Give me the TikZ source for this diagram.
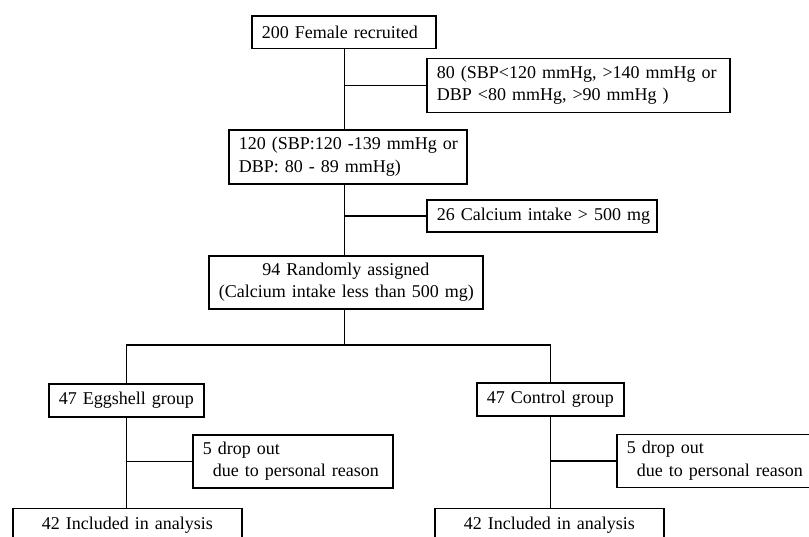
\documentclass[tikz,border=0pt]{standalone}
\usepackage{fontspec}
\setmainfont{Liberation Serif}
\begin{document}
\begin{tikzpicture}[x=1pt,y=-1pt,
  box/.style={draw, line width=1.8pt, inner xsep=10pt, inner ysep=0pt, anchor=north west, font=\fontsize{18}{22.5}\selectfont},
  lbox/.style={box, align=left},
  cbox/.style={box, align=center},
  conn/.style={line width=1.8pt}]
\useasboundingbox (0,0) rectangle (809,536);
\clip (0,0) rectangle (809,536);
\node[lbox, text width=164pt, minimum height=32.5pt] (A) at (251,15) {\mbox{200 Female recruited}};
\node[lbox, text width=283pt, minimum height=54pt] (B) at (426,57.5) {\mbox{80 (SBP<120 mmHg, >140 mmHg or}\\\mbox{DBP <80 mmHg, >90 mmHg )}};
\node[lbox, text width=218pt, minimum height=54pt] (C) at (228,129) {\mbox{120 (SBP:120 -139 mmHg or}\\\mbox{DBP: 80 - 89 mmHg)}};
\node[lbox, text width=210pt, minimum height=32pt] (D) at (426,199) {\mbox{26 Calcium intake > 500 mg}};
\node[cbox, text width=254pt, minimum height=53pt] (E) at (208,255) {\mbox{94 Randomly assigned}\\\mbox{(Calcium intake less than 500 mg)}};
\node[cbox, text width=135pt, minimum height=33pt] (F) at (48,383) {\mbox{47 Eggshell group}};
\node[cbox, text width=127pt, minimum height=33pt] (G) at (476,382) {\mbox{47 Control group}};
\node[lbox, text width=180pt, minimum height=53pt] (H) at (192,434) {\mbox{5 drop out}\\\mbox{\hspace*{10pt}due to personal reason}};
\node[lbox, text width=180pt, minimum height=53pt] (I) at (616,433.5) {\mbox{5 drop out}\\\mbox{\hspace*{10pt}due to personal reason}};
\node[cbox, text width=209pt, minimum height=33pt] (J) at (12,507.5) {\mbox{42 Included in analysis}};
\node[cbox, text width=209pt, minimum height=33pt] (K) at (434,507.5) {\mbox{42 Included in analysis}};
\coordinate (t) at (344.5,0);
\coordinate (s) at (344.5,345);
\draw[conn] (t |- A.south) -- (t |- C.north);
\draw[conn] (t |- B.west) -- (B.west);
\draw[conn] (t |- C.south) -- (t |- E.north);
\draw[conn] (t |- D.west) -- (D.west);
\draw[conn] (t |- E.south) -- (s);
\draw[conn] (F.north) |- (s) -| (G.north);
\draw[conn] (F.south) -- (F.south |- J.north);
\draw[conn] (F.south |- H.west) -- (H.west);
\draw[conn] (G.south) -- (G.south |- K.north);
\draw[conn] (G.south |- I.west) -- (I.west);
\end{tikzpicture}
\end{document}
